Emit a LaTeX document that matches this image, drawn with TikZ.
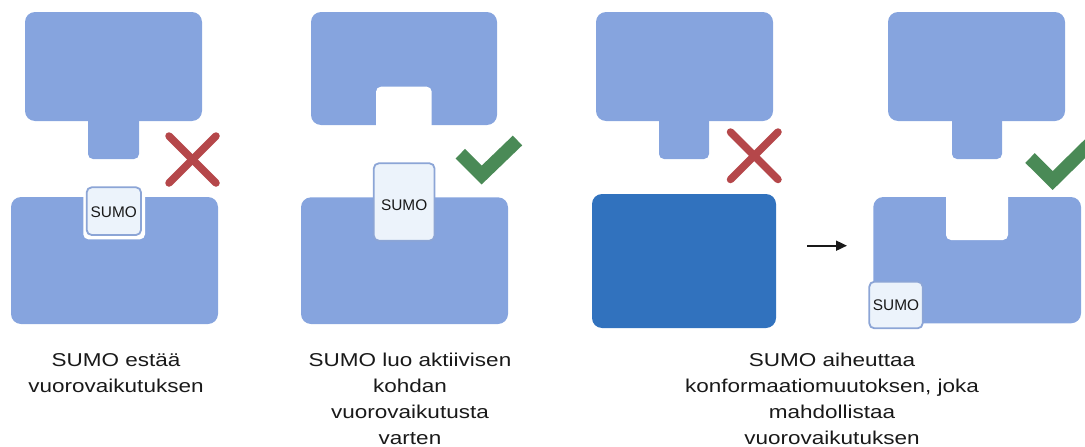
\documentclass[tikz,border=0pt]{standalone}
\usepackage{fontspec}
\setmainfont{Liberation Sans}
\newfontfamily\capfont[FakeStretch=1.21]{Liberation Sans}
\usetikzlibrary{arrows.meta}
\definecolor{lightprot}{RGB}{134,164,222}
\definecolor{darkprot}{RGB}{49,114,190}
\definecolor{sumofill}{RGB}{236,243,251}
\definecolor{sumoline}{RGB}{140,165,214}
\definecolor{nored}{RGB}{181,71,74}
\definecolor{yesgreen}{RGB}{74,138,86}
\begin{document}
\begin{tikzpicture}[x=1pt,y=-1pt,
  prot/.style={fill=lightprot,draw=none,rounded corners=10pt},
  tab/.style={fill=lightprot,draw=none,rounded corners=5pt},
  gap/.style={fill=white,draw=none,rounded corners=5pt},
  sumobox/.style={fill=sumofill,draw=sumoline,line width=1.8pt,rounded corners=5pt},
  sumotext/.style={font=\fontsize{15.4}{18}\selectfont,text=black!90,inner sep=0pt},
  cross/.style={draw=nored,line width=7.5pt,line cap=round},
  tick/.style={draw=yesgreen,line width=13.5pt,line join=miter,line cap=butt},
  caption/.style={align=center,anchor=north,font=\capfont\fontsize{18.6}{26}\selectfont,text=black!90,inner sep=0pt},
  arr/.style={draw=black!90,line width=1.8pt,-{Triangle[length=11pt,width=10pt]}}]
\useasboundingbox (0,0) rectangle (1085,447);
\clip (0,0) rectangle (1085,447);

% ---------- Panel 1 ----------
\fill[prot] (25,12) rectangle (202,121);
\fill[tab] (88,100) rectangle (139,159);
\fill[prot] (11,197) rectangle (218,324);
\fill[gap] (83.3,180) rectangle (145,239.3);
\draw[sumobox] (86.7,187.3) rectangle (141,235);
\node[sumotext] (s1) at (113.8,212) {SUMO};
\coordinate (x1a) at (169,136); \coordinate (x1b) at (216,183);
\coordinate (x1c) at (216,136); \coordinate (x1d) at (169,183);
\draw[cross] (x1a) -- (x1b);
\draw[cross] (x1c) -- (x1d);
\node[caption] (c1) at (116,353) {SUMO estää\\vuorovaikutuksen};

% ---------- Panel 2 ----------
\fill[prot] (311,12) rectangle (497,125);
\fill[gap] (376,86.7) rectangle (431.7,140);
\fill[prot] (301,197.3) rectangle (508,324);
\draw[sumobox] (373.8,163.3) rectangle (434.5,240.7);
\node[sumotext] (s2) at (404.2,205) {SUMO};
\coordinate (t2a) at (460.3,153.7); \coordinate (t2b) at (481.7,175);
\coordinate (t2c) at (517.5,140.5);
\draw[tick] (t2a) -- (t2b) -- (t2c);
\node[caption] (c2) at (410,353) {SUMO luo aktiivisen\\kohdan\\vuorovaikutusta\\varten};

% ---------- Panel 3 ----------
\fill[prot] (596,12) rectangle (773,121);
\fill[tab] (659,100) rectangle (709,159);
\fill[darkprot,rounded corners=10pt] (592,194) rectangle (776,328);
\coordinate (x3a) at (730.5,132); \coordinate (x3b) at (778,179.5);
\coordinate (x3c) at (778,132); \coordinate (x3d) at (730.5,179.5);
\draw[cross] (x3a) -- (x3b);
\draw[cross] (x3c) -- (x3d);
\coordinate (a1) at (807,245.7); \coordinate (a2) at (847,245.7);
\draw[arr] (a1) -- (a2);

% ---------- Panel 4 ----------
\fill[prot] (888,12) rectangle (1065,121);
\fill[tab] (952,100) rectangle (1002,159);
\fill[prot] (873.3,197) rectangle (1081,323.3);
\fill[gap] (946,180) rectangle (1008,240);
\draw[sumobox] (869.3,281.7) rectangle (922.7,328.3);
\node[sumotext] (s4) at (896,305) {SUMO};
\coordinate (t4a) at (1030,158); \coordinate (t4b) at (1052.7,180.5);
\coordinate (t4c) at (1100,134);
\draw[tick] (t4a) -- (t4b) -- (t4c);
\node[caption] (c3) at (832,353) {SUMO aiheuttaa\\konformaatiomuutoksen, joka\\mahdollistaa\\vuorovaikutuksen};
\end{tikzpicture}
\end{document}
